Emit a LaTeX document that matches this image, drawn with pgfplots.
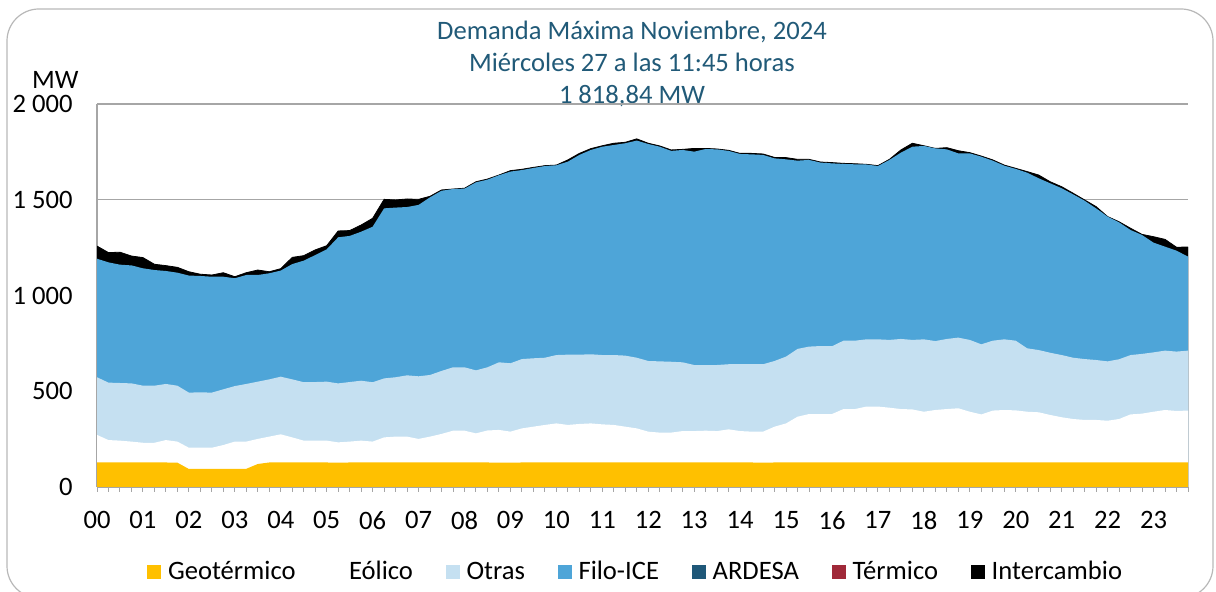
\documentclass[border=0pt]{standalone}
\usepackage{fontspec}
\setmainfont{Carlito}
\usepackage{pgfplots}
\pgfplotsset{compat=1.18}
\usepackage{pgfplotstable}

\definecolor{geo}{HTML}{FFC000}
\definecolor{otras}{HTML}{C5E0F1}
\definecolor{filo}{HTML}{4EA5D8}
\definecolor{ardesa}{HTML}{1F5879}
\definecolor{termico}{HTML}{A02939}
\definecolor{titlec}{HTML}{215A78}
\definecolor{gridc}{HTML}{A6A6A6}

% cumulative tops: G = Geotermico, E = +Eolico, O = +Otras, B = +Filo-ICE (+ARDESA, Termico), T = +Intercambio
\pgfplotstableread{
h G E O B T
0 128 272 573 1192 1258
0.25 128 245 545 1173 1224
0.5 128 242 543 1161 1226
0.75 128 237 541 1157 1206
1 128 231 529 1142 1198
1.25 128 231 529 1133 1163
1.5 128 245 538 1128 1156
1.75 127 237 529 1119 1147
2 94 205 493 1104 1124
2.25 94 205 494 1102 1111
2.5 94 205 493 1098 1107
2.75 94 219 510 1098 1119
3 95 237 527 1090 1098
3.25 95 237 538 1107 1119
3.5 120 251 550 1107 1133
3.75 128 263 562 1116 1124
4 128 275 576 1130 1140
4.25 128 259 562 1164 1199
4.5 128 242 547 1182 1208
4.75 128 242 548 1211 1238
5 128 242 550 1241 1260
5.25 127 233 541 1304 1337
5.5 128 237 548 1311 1339
5.75 128 242 555 1333 1368
6 128 237 547 1359 1403
6.25 128 259 567 1455 1502
6.5 128 263 573 1459 1499
6.75 128 263 583 1462 1504
7 128 251 578 1473 1502
7.25 128 263 585 1513 1518
7.5 128 277 606 1547 1551
7.75 128 294 625 1556 1556
8 128 294 625 1558 1560
8.25 128 280 609 1591 1594
8.5 128 295 625 1605 1608
8.75 127 298 651 1628 1629
9 127 289 646 1647 1652
9.25 128 306 668 1655 1659
9.5 128 315 672 1666 1669
9.75 128 324 675 1676 1678
10 128 332 689 1680 1681
10.25 128 324 691 1699 1708
10.5 128 329 691 1734 1742
10.75 128 332 693 1760 1767
11 128 327 689 1777 1782
11.25 128 324 689 1786 1795
11.5 128 315 686 1795 1800
11.75 128 306 675 1809 1818
12 128 289 658 1791 1795
12.25 128 284 656 1777 1781
12.5 128 284 654 1755 1760
12.75 128 292 651 1760 1763
13 128 292 637 1751 1768
13.25 128 294 637 1765 1768
13.5 128 292 637 1763 1765
13.75 128 301 641 1755 1758
14 128 292 641 1739 1742
14.25 128 289 641 1737 1742
14.5 127 289 641 1734 1739
14.75 128 315 658 1716 1721
15 128 332 681 1711 1720
15.25 128 367 721 1704 1711
15.5 128 381 733 1708 1711
15.75 128 381 736 1694 1697
16 128 381 735 1690 1694
16.25 128 407 764 1687 1690
16.5 128 407 764 1685 1688
16.75 128 420 771 1684 1685
17 128 420 771 1676 1678
17.25 128 414 768 1708 1711
17.5 128 407 773 1746 1760
17.75 128 405 768 1777 1795
18 128 393 771 1781 1782
18.25 128 402 762 1768 1768
18.5 128 407 773 1763 1772
18.75 128 411 780 1742 1756
19 128 393 768 1742 1746
19.25 128 379 745 1725 1728
19.5 128 399 764 1704 1708
19.75 128 402 771 1678 1681
20 128 400 764 1661 1664
20.25 128 393 724 1641 1647
20.5 128 390 715 1612 1629
20.75 128 376 701 1586 1594
21 128 364 689 1560 1568
21.25 128 355 675 1528 1534
21.5 128 350 668 1495 1499
21.75 128 350 663 1455 1464
22 128 346 656 1412 1412
22.25 128 355 667 1382 1385
22.5 128 379 689 1342 1351
22.75 128 383 695 1316 1319
23 128 393 703 1276 1307
23.25 128 402 712 1255 1293
23.5 128 397 707 1234 1252
23.75 128 399 712 1203 1253
}\data

\begin{document}
\begin{tikzpicture}[x=1pt,y=1pt]
\path[use as bounding box] (0,0) rectangle (608,296);
\begin{scope}
\clip (0,0) rectangle (608,296);
\draw[gridc!80, line width=0.6pt, rounded corners=16pt] (3.5,-3) rectangle (606.5,291.5);
\end{scope}
\node[align=center, text=titlec, font=\fontsize{13.3}{16}\selectfont] at (316,264)
  {Demanda Máxima Noviembre, 2024\\Miércoles 27 a las 11:45 horas\\1\hspace{0.22em}818,84 MW};
\node[font=\fontsize{13.3}{16}\selectfont, inner sep=0pt] at (27.7,256) {MW};
\begin{axis}[
  at={(48.5pt,52.5pt)}, anchor=south west,
  scale only axis, width=545.5pt, height=191.5pt,
  xmin=0, xmax=23.75, ymin=0, ymax=2000,
  axis x line=bottom, axis y line=left,
  axis line style={-, gridc, line width=0.6pt},
  xtick={0,...,23},
  xticklabels={00,01,02,03,04,05,06,07,08,09,10,11,12,13,14,15,16,17,18,19,20,21,22,23},
  minor xtick={0,0.25,...,23.75},
  tick align=outside,
  major tick length=2.5pt, minor tick length=2.5pt,
  tick style={gridc, line width=0.5pt},
  ytick={0,500,1000,1500,2000},
  ytick style={draw=none},
  ymajorgrids, grid style={gridc, line width=0.6pt},
  /pgf/number format/1000 sep={\hspace{0.226em}},
  /pgf/number format/assume math mode=true,
  ticklabel style={font=\fontsize{13.3}{16}\selectfont},
  xticklabel style={yshift=-6pt},
  yticklabel style={xshift=-8.5pt, inner sep=1pt},
  legend columns=7,
  legend style={at={(0.4945,-0.222)}, anchor=center, draw=none, fill=none,
    font=\fontsize{13.3}{16}\selectfont,
    /tikz/every odd column/.append style={column sep=1.3pt},
    /tikz/every even column/.append style={column sep=14.3pt}},
  legend image code/.code={\fill[#1, draw=none] (0pt,-3.5pt) rectangle (7.2pt,3.5pt);},
]
\addlegendimage{fill=geo}
\addlegendentry{Geotérmico}
\addlegendimage{fill=white}
\addlegendentry{Eólico}
\addlegendimage{fill=otras}
\addlegendentry{Otras}
\addlegendimage{fill=filo}
\addlegendentry{Filo-ICE}
\addlegendimage{fill=ardesa}
\addlegendentry{ARDESA}
\addlegendimage{fill=termico}
\addlegendentry{Térmico}
\addlegendimage{fill=black}
\addlegendentry{Intercambio}

\addplot[fill=black, draw=black, line width=0.4pt, forget plot] table[x=h,y=T] {\data} \closedcycle;
\addplot[fill=filo, draw=none, forget plot] table[x=h,y=B] {\data} \closedcycle;
\addplot[fill=otras, draw=none, forget plot] table[x=h,y=O] {\data} \closedcycle;
\addplot[fill=white, draw=none, forget plot] table[x=h,y=E] {\data} \closedcycle;
\addplot[fill=geo, draw=none, forget plot] table[x=h,y=G] {\data} \closedcycle;
\end{axis}
\end{tikzpicture}
\end{document}
